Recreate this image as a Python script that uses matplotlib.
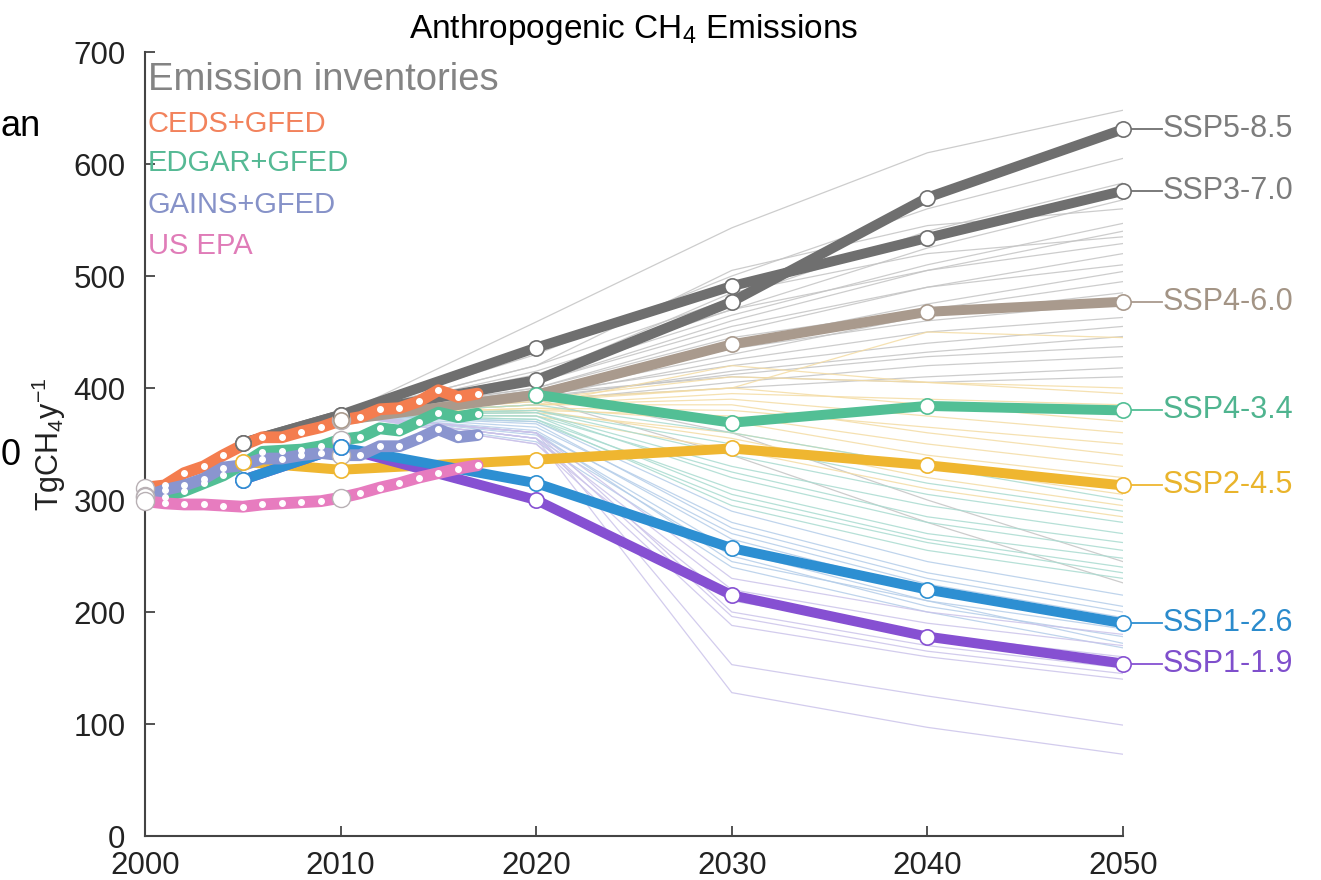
import matplotlib
matplotlib.use("Agg")
import matplotlib.pyplot as plt

plt.rcParams['font.family'] = ['Liberation Sans', 'DejaVu Sans']
plt.rcParams['mathtext.default'] = 'regular'

# ---------------- data ----------------
inv_years = list(range(2000, 2018))
ceds_gfed = [311, 313, 324, 330, 340, 349, 356, 356, 361, 365, 371, 374, 381, 382, 388, 398, 392, 395]
edgar_gfed = [304, 303, 308, 315, 322, 332, 343, 344, 345, 348, 354, 356, 364, 362, 370, 378, 374, 377]
gains_gfed = [303, 309, 313, 319, 329, 331, 337, 337, 340, 342, 340, 340, 348, 348, 355, 363, 356, 358]
us_epa = [299, 297, 296, 296, 295, 294, 296, 297, 298, 299, 302, 306, 311, 315, 320, 324, 328, 331]
inv_names = ["CEDS+GFED", "EDGAR+GFED", "GAINS+GFED", "US EPA"]

ssp_names = ["SSP5-8.5", "SSP3-7.0", "SSP4-6.0", "SSP4-3.4", "SSP2-4.5", "SSP1-2.6", "SSP1-1.9"]
ssp585_years = [2005, 2010, 2020, 2030, 2040, 2050]
ssp585 = [351, 376, 407, 477, 570, 631]
ssp370_years = [2005, 2010, 2020, 2030, 2040, 2050]
ssp370 = [351, 376, 436, 491, 534, 576]
ssp460_years = [2010, 2020, 2030, 2040, 2050]
ssp460 = [371, 394, 439, 468, 477]
ssp434_years = [2020, 2030, 2040, 2050]
ssp434 = [394, 369, 384, 380]
ssp245_years = [2005, 2010, 2020, 2030, 2040, 2050]
ssp245 = [334, 327, 336, 346, 331, 313]
ssp126_years = [2005, 2010, 2020, 2030, 2040, 2050]
ssp126 = [318, 347, 315, 257, 220, 190]
ssp119_years = [2005, 2010, 2020, 2030, 2040, 2050]
ssp119 = [318, 347, 300, 215, 178, 154]

# other scenarios (thin lines), values at these years
scen_years = [2010, 2020, 2030, 2040, 2050]
scen_gray = [
    [376, 459, 543, 610, 648], [376, 430, 500, 560, 605], [376, 420, 480, 540, 583],
    [376, 415, 470, 525, 568], [376, 410, 465, 510, 547], [376, 405, 460, 505, 540],
    [376, 412, 470, 505, 529], [376, 400, 450, 490, 520], [376, 405, 455, 490, 510],
    [376, 398, 440, 475, 504], [376, 400, 445, 470, 495], [376, 395, 430, 465, 485],
    [376, 398, 435, 460, 476], [376, 392, 425, 450, 463], [376, 395, 420, 440, 455],
    [376, 390, 415, 432, 446], [376, 392, 412, 428, 437], [376, 388, 405, 420, 428],
    [376, 390, 400, 410, 418], [376, 395, 410, 405, 410], [376, 395, 360, 300, 245],
    [376, 390, 340, 280, 226], [376, 420, 505, 545, 560], [376, 410, 485, 520, 535],
]
scen_yellow = [
    [376, 390, 400, 450, 445], [376, 390, 410, 405, 400], [376, 385, 395, 390, 385],
    [376, 388, 400, 385, 370], [376, 385, 390, 375, 360], [376, 382, 380, 365, 350],
    [376, 385, 385, 360, 340], [376, 380, 375, 350, 330], [376, 382, 370, 340, 320],
    [376, 378, 360, 330, 305], [376, 380, 355, 320, 295], [376, 375, 345, 310, 285],
    [376, 385, 420, 405, 395],
]
scen_teal = [
    [376, 385, 360, 330, 300], [376, 380, 350, 315, 290], [376, 380, 340, 305, 280],
    [376, 378, 330, 295, 270], [376, 375, 325, 285, 262], [376, 378, 320, 280, 255],
    [376, 372, 310, 270, 248], [376, 375, 305, 265, 240], [376, 370, 300, 262, 235],
    [376, 372, 295, 255, 230],
]
scen_blue = [
    [376, 370, 290, 245, 215], [376, 365, 280, 235, 205], [376, 368, 275, 230, 200],
    [376, 360, 270, 225, 195], [376, 362, 265, 220, 190], [376, 358, 255, 210, 185],
    [376, 355, 250, 205, 178], [376, 360, 245, 210, 172], [376, 352, 240, 200, 168],
]
scen_lavender = [
    [376, 360, 230, 200, 180], [376, 355, 220, 190, 170], [376, 350, 210, 180, 160],
    [376, 360, 200, 170, 150], [376, 355, 196, 165, 145], [376, 350, 188, 160, 140],
    [376, 360, 153, 125, 99], [376, 355, 128, 97, 73],
]

x_ticks = [2000, 2010, 2020, 2030, 2040, 2050]
y_ticks = [0, 100, 200, 300, 400, 500, 600, 700]

# ---------------- styling ----------------
inv_colors = ["#f47d4f", "#52bf95", "#8a95cf", "#e77cbf"]
inv_text_colors = ["#f2825c", "#55b994", "#8692c8", "#e07cb8"]
ssp_colors = ["#6f6f6f", "#6f6f6f", "#a99a8d", "#52bf95", "#efb630", "#2d8fd2", "#8650d2"]
ssp_text_colors = ["#7c7c7c", "#7c7c7c", "#a39485", "#4fb48f", "#e9b42c", "#2b8bcc", "#7f4fcc"]
group_colors = ["#c4c4c4", "#f4dca4", "#a9dbd0", "#b4cde9", "#cbc3ea"]
axis_color = "#444444"

fig = plt.figure(figsize=(13.21, 8.80), dpi=100)
ax = fig.add_axes([145 / 1321, 1 - 836 / 880, 978 / 1321, 784 / 880])
ax.set_xlim(2000, 2050)
ax.set_ylim(0, 700)

# thin scenario lines
for grp, col in zip([scen_gray, scen_yellow, scen_teal, scen_blue, scen_lavender], group_colors):
    for vals in grp:
        ax.plot(scen_years, vals, color=col, lw=0.9, alpha=0.85, zorder=1)

# SSP thick lines
ssp_data = [(ssp585_years, ssp585), (ssp370_years, ssp370), (ssp460_years, ssp460),
            (ssp434_years, ssp434), (ssp245_years, ssp245), (ssp119_years, ssp119),
            (ssp126_years, ssp126)]
ssp_order = [0, 1, 2, 3, 4, 6, 5]
for (yrs, vals), idx in zip(ssp_data, ssp_order):
    col = ssp_colors[idx]
    ax.plot(yrs, vals, color=col, lw=7.2, solid_capstyle='round', zorder=3, clip_on=False)
    ax.plot(yrs, vals, linestyle='none', marker='o', ms=11, mfc='white', mec=col,
            mew=1.2, zorder=6, clip_on=False)
    ax.plot([2050, 2052], [vals[-1], vals[-1]], color=col, lw=1.3, zorder=2, clip_on=False)
    ax.text(2052.05, vals[-1], ssp_names[idx], color=ssp_text_colors[idx], fontsize=22,
            va='center', ha='left', clip_on=False)

# inventories
for vals, col in zip([ceds_gfed, edgar_gfed, gains_gfed, us_epa], inv_colors):
    ax.plot(inv_years, vals, color=col, lw=8.5, solid_capstyle='round', zorder=4, clip_on=False)
    small = [(y, v) for y, v in zip(inv_years, vals) if y not in (2000, 2010)]
    ax.plot([s[0] for s in small], [s[1] for s in small], linestyle='none', marker='o',
            ms=4, mfc='white', mec='white', zorder=5, clip_on=False)
    big = [(y, v) for y, v in zip(inv_years, vals) if y in (2000, 2010)]
    ax.plot([b[0] for b in big], [b[1] for b in big], linestyle='none', marker='o',
            ms=13, mfc='white', mec='#b8b0b4', mew=1.0, zorder=5, clip_on=False)

# legend texts
ax.text(2000.15, 675, "Emission inventories", color="#848484", fontsize=27.5, va='center', ha='left')
for name, col, yv in zip(inv_names, inv_text_colors, [636, 601, 563, 527]):
    ax.text(2000.15, yv, name, color=col, fontsize=21, va='center', ha='left')

# axes styling
for s in ['top', 'right']:
    ax.spines[s].set_visible(False)
for s in ['left', 'bottom']:
    ax.spines[s].set_color(axis_color)
    ax.spines[s].set_linewidth(1.5)
ax.set_xticks(x_ticks)
ax.set_yticks(y_ticks)
ax.tick_params(direction='in', length=7, width=1.3, color=axis_color, labelsize=22.5,
               labelcolor='#222222')
ax.tick_params(axis='x', pad=11)
ax.tick_params(axis='y', pad=14)

ax.set_title("Anthropogenic CH$_4$ Emissions", fontsize=24, color='black', pad=10)
ax.set_ylabel("TgCH$_4$y$^{-1}$", fontsize=22, color='#222222', labelpad=4)

# fragments at the left edge of the original slide
fig.text(1 / 1321, 1 - 126 / 880, "an", fontsize=26, ha='left', va='center', color='black')
fig.text(1 / 1321, 1 - 455 / 880, "0", fontsize=26, ha='left', va='center', color='black')

fig.savefig("out.png", dpi=100)
